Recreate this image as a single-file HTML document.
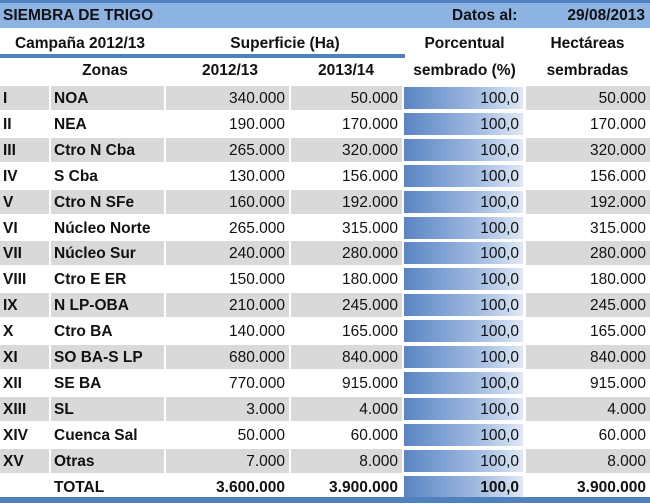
<!DOCTYPE html>
<html><head><meta charset="utf-8"><style>
body{margin:0;width:650px;height:503px;overflow:hidden;background:#fff;font-family:"Liberation Sans",sans-serif;font-size:15.5px;color:#111;position:relative}
.top{position:absolute;left:0;top:0;width:650px;height:3px;background:#4f81bd}
.title{position:absolute;left:0;top:3px;width:650px;height:25px;background:#8db3e2;font-weight:bold;line-height:25px}
.h{position:absolute;font-weight:bold;text-align:center;line-height:28px}
.ul{position:absolute;left:0;top:54px;width:405px;height:4px;background:#4f81bd}
.row{position:absolute;left:0;width:650px;height:26px;line-height:25px}
.c{position:absolute;top:0;height:24px;box-sizing:border-box;white-space:nowrap}
.g .c{background:#d9d9d9}
.r{text-align:right;padding-right:4px}
.b{font-weight:bold;padding-left:3px}
.bar{background:linear-gradient(to right,#5a85c4,#9fb9e0 60%,#dfe8f5) !important;border:1px solid #fff;line-height:23px}
.bottom{position:absolute;left:0;top:497px;width:650px;height:6px;background:#4f81bd}
</style></head><body>
<div class="top"></div>
<div class="title"><span style="position:absolute;left:3px">SIEMBRA DE TRIGO</span><span style="position:absolute;left:452px">Datos al:</span><span style="position:absolute;right:5px">29/08/2013</span></div>
<div class="h" style="left:0;top:30px;width:160px">Campaña 2012/13</div>
<div class="h" style="left:195px;top:30px;width:180px">Superficie (Ha)</div>
<div class="h" style="left:402px;top:30px;width:125px">Porcentual</div>
<div class="h" style="left:525px;top:30px;width:125px">Hectáreas</div>
<div class="ul"></div>
<div class="h" style="left:45px;top:57px;width:120px">Zonas</div>
<div class="h" style="left:170px;top:57px;width:120px">2012/13</div>
<div class="h" style="left:290px;top:57px;width:112px">2013/14</div>
<div class="h" style="left:402px;top:57px;width:125px">sembrado (%)</div>
<div class="h" style="left:525px;top:57px;width:125px">sembradas</div>
<div id="rows"></div>
<div class="bottom"></div>
<script>
var d=[["I","NOA","340.000","50.000"],["II","NEA","190.000","170.000"],["III","Ctro N Cba","265.000","320.000"],["IV","S Cba","130.000","156.000"],["V","Ctro N SFe","160.000","192.000"],["VI","Núcleo Norte","265.000","315.000"],["VII","Núcleo Sur","240.000","280.000"],["VIII","Ctro E ER","150.000","180.000"],["IX","N LP-OBA","210.000","245.000"],["X","Ctro BA","140.000","165.000"],["XI","SO BA-S LP","680.000","840.000"],["XII","SE BA","770.000","915.000"],["XIII","SL","3.000","4.000"],["XIV","Cuenca Sal","50.000","60.000"],["XV","Otras","7.000","8.000"],["","TOTAL","3.600.000","3.900.000"]];
var h="";
d.forEach(function(r,i){var y=86+i*25.9;var tot=i==15;var cls=(i%2==0&&!tot)?"row g":"row";
var nb=tot?"font-weight:bold;":"";
h+='<div class="'+cls+'" style="top:'+y+'px">'+
'<div class="c b" style="left:0;width:49px">'+r[0]+'</div>'+
'<div class="c b" style="left:51px;width:113px">'+r[1]+'</div>'+
'<div class="c r" style="left:166px;width:123px;'+nb+'">'+r[2]+'</div>'+
'<div class="c r" style="left:291px;width:111px;'+nb+'">'+r[3]+'</div>'+
'<div class="c r bar" style="left:403px;width:121px;'+nb+'">100,0</div>'+
'<div class="c r" style="left:526px;width:124px;'+nb+'">'+r[3]+'</div></div>';});
document.getElementById("rows").innerHTML=h;
</script>
</body></html>
